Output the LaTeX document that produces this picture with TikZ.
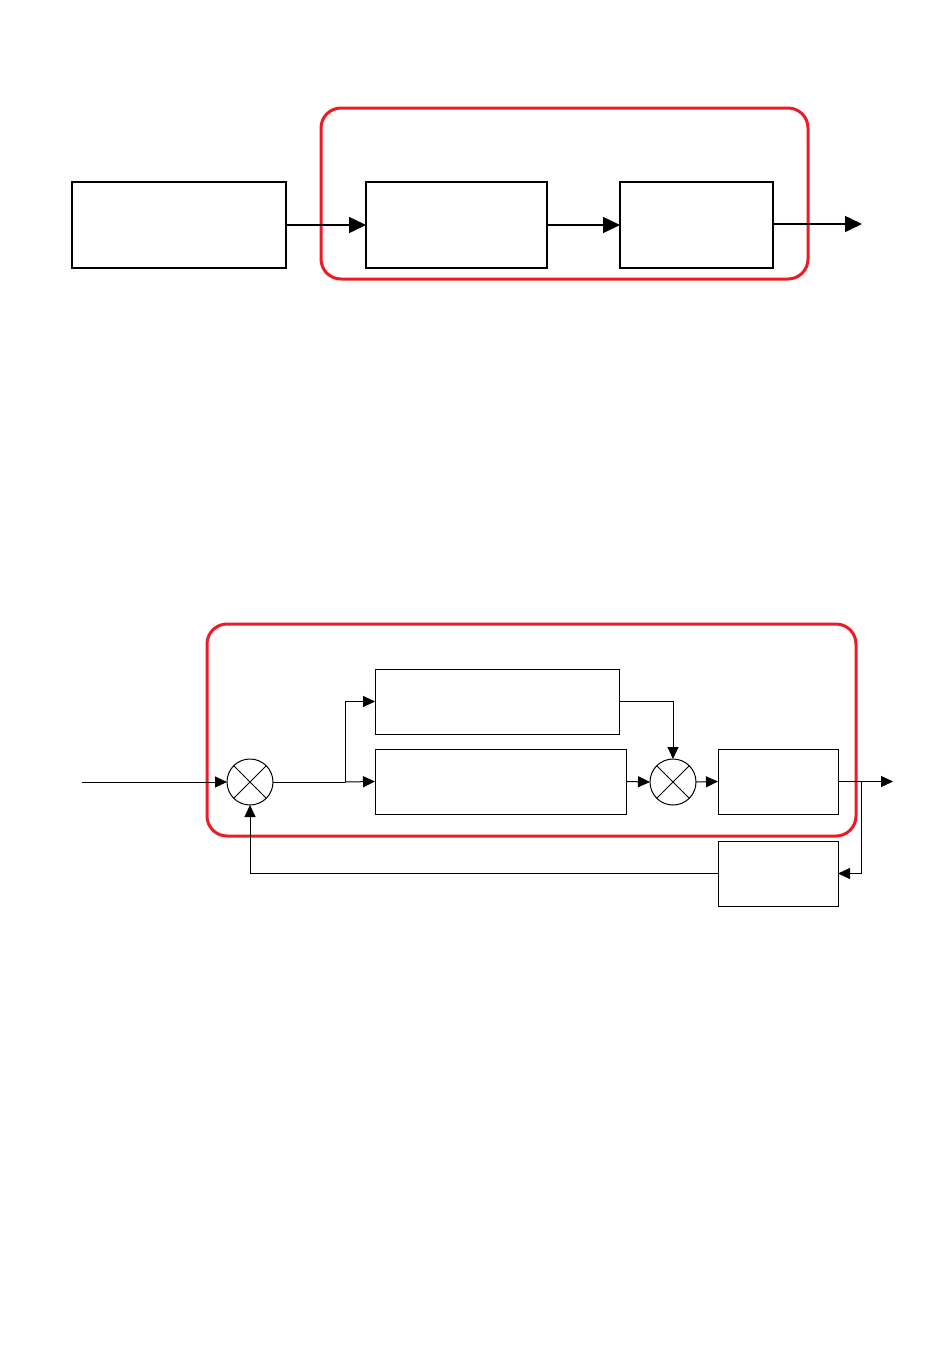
\documentclass[tikz,border=0pt]{standalone}
\usepackage{tikz}
\usepackage{xcolor}
\usetikzlibrary{arrows.meta,positioning}
\definecolor{framered}{RGB}{237,28,36}

\begin{document}
\begin{tikzpicture}[x=1pt,y=-1pt,
  blk/.style={draw=black,rectangle,inner sep=0pt,outer sep=0pt},
  mix/.style={draw=black,circle,minimum size=46pt,inner sep=0pt,outer sep=0pt,line width=1pt},
  frame/.style={draw=framered,line width=3pt,rounded corners=20pt},
  bigtip/.style={-{Triangle[length=17pt,width=16pt]},line width=1.6pt},
  smalltip/.style={-{Triangle[length=12pt,width=11pt]},line width=1pt}]
\useasboundingbox (0,0) rectangle (950,1369);
\tikzstyle{every node}+=[inner sep=0pt]
\node [blk,line width=1.6pt,minimum width=214pt,minimum height=86pt] (Q1) at (179,225) {};
\node [blk,line width=1.6pt,minimum width=181pt,minimum height=86pt] (Q2) at (456.5,225) {};
\node [blk,line width=1.6pt,minimum width=153pt,minimum height=86pt] (Q3) at (696.5,225) {};
\coordinate (Qout) at (862,224);
\draw [frame] (321,108) rectangle (808,279);
\draw [bigtip] (Q1.east) -- (Q2.west);
\draw [bigtip] (Q2.east) -- (Q3.west);
\draw [bigtip] (Q3.east |- Qout) -- (Qout);
\node [blk,line width=1pt,minimum width=244pt,minimum height=65pt] (P1) at (497,701.5) {};
\node [blk,line width=1pt,minimum width=251pt,minimum height=65pt] (P2) at (500.5,781.5) {};
\node [blk,line width=1pt,minimum width=120pt,minimum height=65pt] (P3) at (778,781.5) {};
\node [blk,line width=1pt,minimum width=120pt,minimum height=65pt] (P4) at (778,873.5) {};
\node [mix] (M1) at (250,782) {};
\node [mix] (M2) at (673,782) {};
\draw [line width=1pt] (M1.north west) -- (M1.south east) (M1.north east) -- (M1.south west);
\draw [line width=1pt] (M2.north west) -- (M2.south east) (M2.north east) -- (M2.south west);
\coordinate (Pin) at (82,782);
\coordinate (Psplit) at (345,782);
\coordinate (Ptap) at (861,781.5);
\coordinate (Pout) at (893,781.5);
\draw [frame] (207,624) rectangle (856,836);
\draw [smalltip] (Pin) -- (M1.west);
\draw [line width=1pt] (M1.east) -- (Psplit);
\draw [smalltip] (Psplit) |- (P1.west);
\draw [smalltip] (Psplit) -- (P2.west);
\draw [smalltip] (P1.east) -| (M2.north);
\draw [smalltip] (P2.east) -- (M2.west);
\draw [smalltip] (M2.east) -- (P3.west);
\draw [smalltip] (P3.east) -- (Pout);
\draw [smalltip] (Ptap) |- (P4.east);
\draw [smalltip] (P4.west) -| (M1.south);
\end{tikzpicture}
\end{document}
